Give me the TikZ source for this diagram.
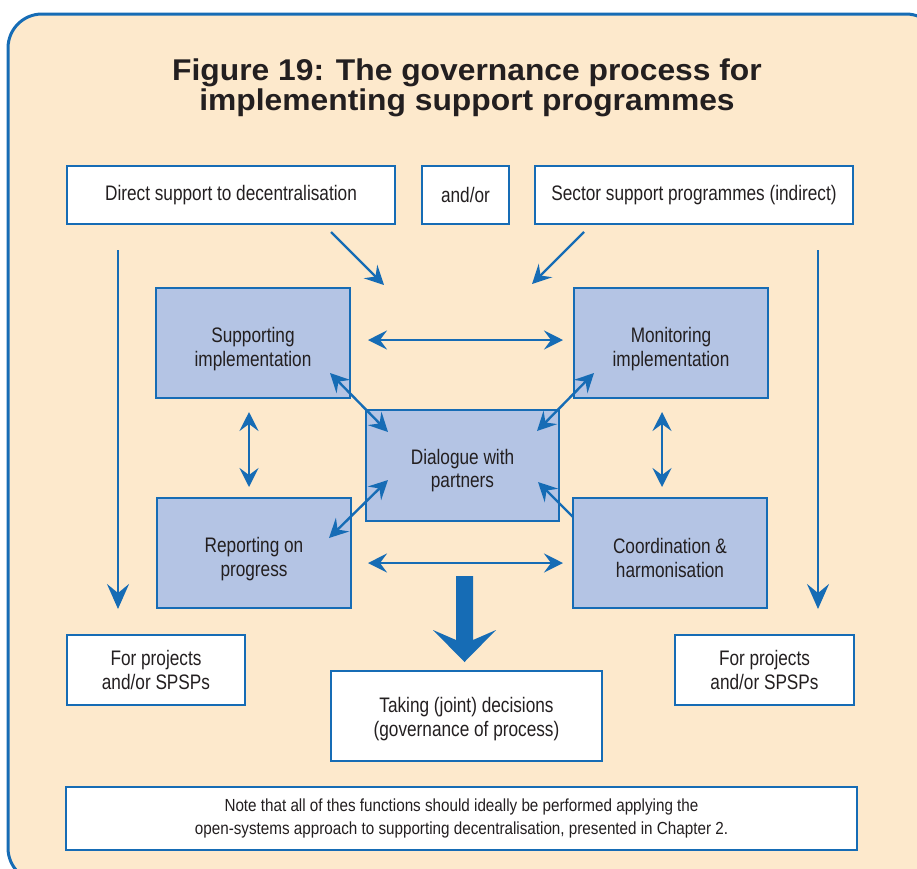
\documentclass[tikz,border=0pt]{standalone}
\usepackage{fontspec}
\setmainfont{Liberation Sans}
\newfontfamily\cond[FakeStretch=0.82]{Liberation Sans}
\newfontfamily\condn[FakeStretch=0.87]{Liberation Sans}
\newfontfamily\titlef[FakeStretch=1.06]{Liberation Sans}
\usetikzlibrary{arrows.meta}
\definecolor{bgc}{RGB}{253,233,204}
\definecolor{blu}{RGB}{22,108,181}
\definecolor{boxf}{RGB}{180,196,228}
\definecolor{txt}{RGB}{35,31,32}
\tikzset{
  wbox/.style={draw=blu, line width=1.6pt, fill=white, inner sep=0pt, outer sep=0pt, align=center, text=txt, font=\cond\fontsize{21}{23.5}\selectfont},
  bbox/.style={wbox, fill=boxf},
  btext/.style={inner sep=0pt, align=center, text=txt, font=\cond\fontsize{21}{23.5}\selectfont},
  conn/.style={draw=blu, line width=2.4pt, -{Stealth[length=19pt,width=19pt,inset=7pt]}},
  dconn/.style={draw=blu, line width=2.4pt, {Stealth[length=19pt,width=19pt,inset=7pt]}-{Stealth[length=19pt,width=19pt,inset=7pt]}},
  lconn/.style={draw=blu, line width=2.4pt, -{Stealth[length=25pt,width=22pt,inset=9pt]}},
}
\begin{document}
\begin{tikzpicture}[x=1pt,y=-1pt]
\useasboundingbox (0,0) rectangle (917,868);
\clip (0,0) rectangle (917,868);
\draw[blu, fill=bgc, line width=3pt, rounded corners=34pt] (8,14) rectangle (940,882);

\node[text=txt, align=center, font=\titlef\bfseries\fontsize{30}{30}\selectfont] (title) at (467,88)
  {Figure 19: The governance process for\\implementing support programmes};

\node[wbox, minimum width=328pt, minimum height=58pt] (direct) at (231,195) {Direct support to decentralisation};
\node[wbox, minimum width=87pt, minimum height=58pt] (andor) at (465.5,195) {and/or};
\node[wbox, minimum width=318pt, minimum height=58pt] (sector) at (694,195) {Sector support programmes (indirect)};

\node[bbox, minimum width=194pt, minimum height=110pt] (sup) at (253,343) {};
\node[btext] (supT) at ([yshift=-6pt]sup.center) {Supporting\\implementation};
\node[bbox, minimum width=194pt, minimum height=110pt] (mon) at (671,343) {};
\node[btext] (monT) at ([yshift=-6pt]mon.center) {Monitoring\\implementation};
\node[bbox, minimum width=193pt, minimum height=111pt] (dia) at (462.5,465.5) {};
\node[btext] (diaT) at ([yshift=-5pt]dia.center) {Dialogue with\\partners};
\node[bbox, minimum width=194pt, minimum height=110pt] (rep) at (254,553) {};
\node[btext] (repT) at ([yshift=-6pt]rep.center) {Reporting on\\progress};
\node[bbox, minimum width=194pt, minimum height=110pt] (coo) at (670,553) {};
\node[btext] (cooT) at ([yshift=-5pt]coo.center) {Coordination \&\\harmonisation};

\node[wbox, minimum width=178pt, minimum height=70pt] (projL) at (156,670) {For projects\\and/or SPSPs};
\node[wbox, minimum width=179pt, minimum height=70pt] (projR) at (764.5,670) {For projects\\and/or SPSPs};
\node[wbox, minimum width=271pt, minimum height=90pt] (dec) at (466.5,716) {};
\node[btext] (decT) at ([yshift=-3pt]dec.center) {Taking (joint) decisions\\(governance of process)};
\node[wbox, minimum width=791pt, minimum height=63pt, font=\condn\fontsize{17.5}{23}\selectfont] (note) at (461.5,818.5)
  {Note that all of thes functions should ideally be performed applying the\\open-systems approach to supporting decentralisation, presented in Chapter 2.};

% coordinates for connector ends
\coordinate (lvA) at (118,250); \coordinate (lvB) at (118,609);
\coordinate (rvA) at (818,250); \coordinate (rvB) at (818,609);
\coordinate (tdA) at (331,232); \coordinate (tdB) at (384,285);
\coordinate (tsA) at (584,232); \coordinate (tsB) at (532,284);
\coordinate (h1A) at (368,340); \coordinate (h1B) at (563,340);
\coordinate (h2A) at (368,563); \coordinate (h2B) at (563,563);
\coordinate (v1A) at (249,412); \coordinate (v1B) at (249,487);
\coordinate (v2A) at (662,412); \coordinate (v2B) at (662,487);
\coordinate (d1A) at (330,373); \coordinate (d1B) at (388,432);
\coordinate (d2A) at (594,373); \coordinate (d2B) at (537,431);
\coordinate (d3A) at (388,480); \coordinate (d3B) at (329,538);
\coordinate (d4A) at (573,517); \coordinate (d4B) at (538,482);

\draw[lconn] (lvA) -- (lvB);
\draw[lconn] (rvA) -- (rvB);
\draw[conn] (tdA) -- (tdB);
\draw[conn] (tsA) -- (tsB);
\draw[dconn] (h1A) -- (h1B);
\draw[dconn] (h2A) -- (h2B);
\draw[dconn] (v1A) -- (v1B);
\draw[dconn] (v2A) -- (v2B);
\draw[dconn] (d1A) -- (d1B);
\draw[dconn] (d2A) -- (d2B);
\draw[dconn] (d3A) -- (d3B);
\draw[conn] (d4A) -- (d4B);

% big arrow
\fill[blu] (456,576) -- (473,576) -- (473,640) -- (496,630) -- (464.5,662) -- (433,630) -- (456,640) -- cycle;
\end{tikzpicture}
\end{document}
